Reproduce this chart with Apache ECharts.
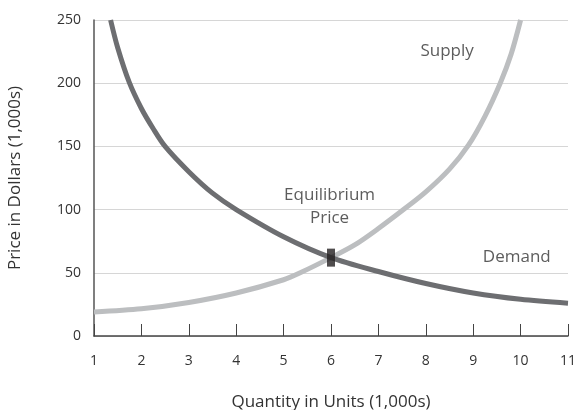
<!DOCTYPE html>
<html><head><meta charset="utf-8">
<script src="https://cdn.jsdelivr.net/npm/echarts@6/dist/echarts.min.js"></script>
<style>html,body{margin:0;padding:0;background:#fff}#c{width:579px;height:410px}</style>
</head><body><div id="c"></div>
<script>
const xTicks = [1,2,3,4,5,6,7,8,9,10,11];
const yTicks = [0,50,100,150,200,250];
const demandQ = [1.35,1.5,1.74,2,2.25,2.5,3,3.5,4,5,6,7,8,9,10,11];
const demandP = [250,228,201,180,164,150,130,113,100,78.5,62,51,41.5,34,29,26];
const supplyQ = [1,2,3,4,5,5.35,6,6.5,7,7.53,8,8.5,8.9,9.25,9.57,9.8,10];
const supplyP = [19,21.5,26.5,34,44.5,50,62,72,85,100,114,132,151,174,200,223,250];
const equilibrium = [6,62];
const labels = [
  {text:'Supply', x:8.45, y:225},
  {text:'Equilibrium\nPrice', x:5.97, y:102},
  {text:'Demand', x:9.92, y:62}
];

const chart = echarts.init(document.getElementById('c'));
const font = "'Open Sans', 'Noto Sans', sans-serif";
chart.setOption({
  animation:false,
  grid:{left:94,right:11,top:20,bottom:74,outerBoundsMode:'none',containLabel:false},
  xAxis:{type:'value',min:1,max:11,interval:1,
    name:'Quantity in Units (1,000s)',nameLocation:'middle',nameGap:58,
    nameTextStyle:{fontFamily:font,fontSize:17,color:'#333'},
    axisLine:{lineStyle:{color:'#444',width:1.5}},
    axisTick:{show:true,inside:true,length:12,lineStyle:{color:'#444',width:1}},
    axisLabel:{fontFamily:font,fontSize:14,color:'#333',margin:18},
    splitLine:{show:false}},
  yAxis:{type:'value',min:0,max:250,interval:50,
    name:'Price in Dollars (1,000s)',nameLocation:'middle',nameGap:70,
    nameTextStyle:{fontFamily:font,fontSize:17,color:'#333'},
    axisLine:{show:true,lineStyle:{color:'#555',width:1.5}},
    axisTick:{show:false},
    axisLabel:{fontFamily:font,fontSize:14,color:'#333',margin:13},
    splitLine:{show:true,lineStyle:{color:'#d6d6d6',width:1}}},
  series:[
    {type:'line',name:'Supply',smooth:0.3,symbol:'none',
      data:supplyQ.map((q,i)=>[q,supplyP[i]]),
      lineStyle:{color:'#bcbec0',width:5},z:2},
    {type:'line',name:'Demand',smooth:0.3,symbol:'none',
      data:demandQ.map((q,i)=>[q,demandP[i]]),
      lineStyle:{color:'#6d6e71',width:5},z:3},
    {type:'scatter',symbol:'rect',symbolSize:[8,18],
      data:[equilibrium],itemStyle:{color:'#231f20'},z:5},
    {type:'scatter',symbolSize:0,silent:true,
      data:labels.map(l=>({value:[l.x,l.y],label:{show:true,formatter:l.text,position:'inside',
        fontFamily:font,fontSize:17,color:'#333',lineHeight:23,align:'center'}})),z:6}
  ]
});
</script></body></html>
